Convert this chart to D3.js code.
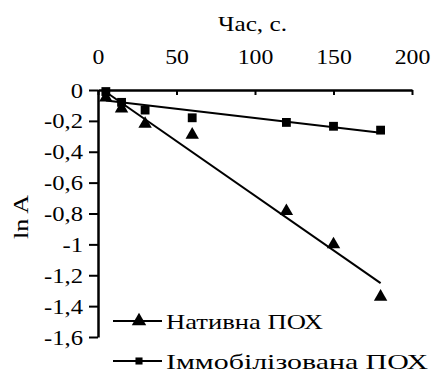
<!DOCTYPE html>
<html>
<head>
<meta charset="utf-8">
<script src="https://cdn.jsdelivr.net/npm/d3@7"></script>
<style>
  body { margin: 0; background: #fff; }
  svg text { font-family: "Liberation Serif", "Times New Roman", serif; fill: #000; }
</style>
</head>
<body>
<div class="chart"></div>
<script>
// data
var times = [5, 15, 30, 60, 120, 150, 180]
var nativeVals = [-0.05, -0.12, -0.22, -0.29, -0.785, -1.0, -1.34]
var immobVals = [-0.01, -0.08, -0.13, -0.18, -0.21, -0.235, -0.26]
var xTicks = [0, 50, 100, 150, 200]
var yTicks = [0, -0.2, -0.4, -0.6, -0.8, -1, -1.2, -1.4, -1.6]
var seriesNames = ['Нативна ПОХ', 'Іммобілізована ПОХ']

var W = 432, H = 376
var svg = d3.select('.chart').append('svg')
    .attr('width', W)
    .attr('height', H)

var x = d3.scaleLinear().domain([0, 200]).range([98, 412])
var y = d3.scaleLinear().domain([0, -1.6]).range([90, 337])

var fmt = function (d) { return d === 0 ? '0' : String(d).replace('.', ',') }

// the source picture is a bit wider than Times glyphs
function widen(sel, k) {
    sel.each(function () {
        var w = this.getComputedTextLength()
        d3.select(this).attr('textLength', w * k).attr('lengthAdjust', 'spacingAndGlyphs')
    })
}

// x axis on top, ticks pointing inward
var xAxis = svg.append('g')
    .attr('transform', 'translate(0,' + y(0) + ')')
    .call(d3.axisTop(x).tickValues(xTicks).tickSizeInner(-5).tickSizeOuter(0).tickPadding(26))
xAxis.select('.domain').attr('stroke', '#000').attr('stroke-width', 2.5)
xAxis.selectAll('line').attr('stroke', '#000').attr('stroke-width', 2)
xAxis.selectAll('text').style('font-size', '22px').call(widen, 1.08)

var yAxis = svg.append('g')
    .attr('transform', 'translate(' + x(0) + ',0)')
    .call(d3.axisLeft(y).tickValues(yTicks).tickFormat(fmt).tickSizeInner(9).tickSizeOuter(0).tickPadding(6))
yAxis.select('.domain').attr('stroke', '#000').attr('stroke-width', 2.5)
yAxis.selectAll('line').attr('stroke', '#000').attr('stroke-width', 2)
yAxis.selectAll('text').style('font-size', '22px').call(widen, 1.12)

svg.append('text')
    .attr('x', 218).attr('y', 31)
    .attr('textLength', 69)
    .attr('lengthAdjust', 'spacingAndGlyphs')
    .style('font-size', '22px')
    .text('Час, с.')

svg.append('text')
    .attr('transform', 'translate(28,239) rotate(-90)')
    .attr('textLength', 44)
    .attr('lengthAdjust', 'spacingAndGlyphs')
    .style('font-size', '22px')
    .text('ln A')

// linear trend (least squares), like a spreadsheet trendline
function fit(xs, ys) {
    var mx = d3.mean(xs), my = d3.mean(ys)
    var sxy = d3.sum(xs, function (v, i) { return (v - mx) * (ys[i] - my) })
    var sxx = d3.sum(xs, function (v) { return (v - mx) * (v - mx) })
    var b = sxy / sxx
    return function (t) { return my + b * (t - mx) }
}

var series = [
    { name: seriesNames[0], vals: nativeVals, shape: d3.symbolTriangle, size: 78, len: 157 },
    { name: seriesNames[1], vals: immobVals, shape: d3.symbolSquare, size: 78, len: 262 }
]

series.forEach(function (s) {
    var f = fit(times, s.vals)
    var x0 = d3.min(times), x1 = d3.max(times)
    svg.append('line')
        .attr('x1', x(x0)).attr('y1', y(f(x0)))
        .attr('x2', x(x1)).attr('y2', y(f(x1)))
        .attr('stroke', '#000').attr('stroke-width', 2)

    svg.append('g')
        .selectAll('path')
        .data(times)
        .enter()
        .append('path')
        .attr('d', d3.symbol().type(s.shape).size(s.size))
        .attr('transform', function (d, i) { return 'translate(' + x(d) + ',' + y(s.vals[i]) + ')' })
        .attr('fill', '#000')
})

// legend
var leg = svg.append('g')
series.forEach(function (s, i) {
    var ly = 321 + i * 40
    leg.append('line')
        .attr('x1', 113).attr('x2', 162)
        .attr('y1', ly).attr('y2', ly)
        .attr('stroke', '#000').attr('stroke-width', 2)
    leg.append('path')
        .attr('d', d3.symbol().type(s.shape).size(i == 0 ? 90 : 50))
        .attr('transform', 'translate(139,' + ly + ')')
        .attr('fill', '#000')
    leg.append('text')
        .attr('x', 166).attr('y', ly + 8)
        .attr('textLength', s.len)
        .attr('lengthAdjust', 'spacingAndGlyphs')
        .style('font-size', '22px')
        .text(s.name)
})
</script>
</body>
</html>
